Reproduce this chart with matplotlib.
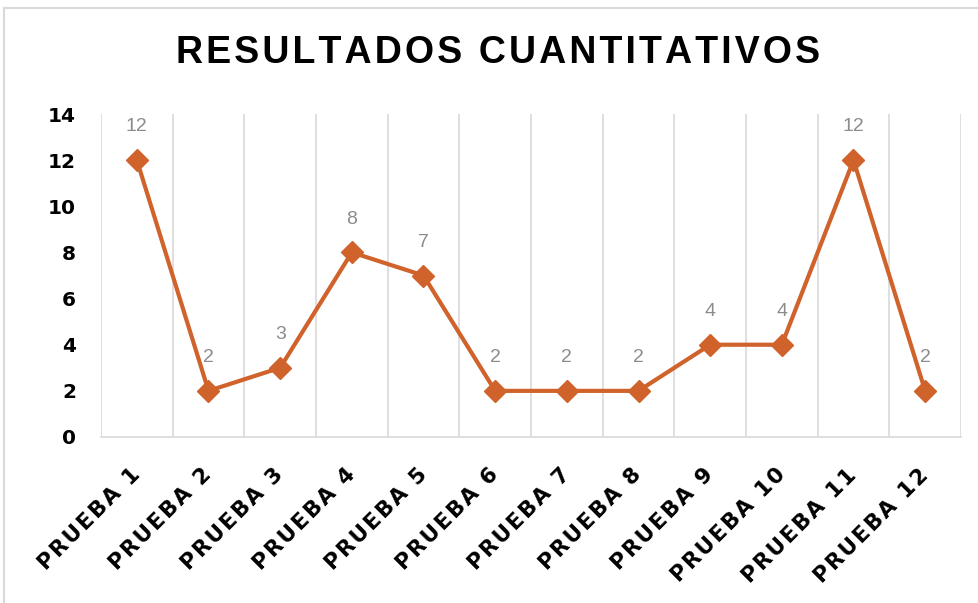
import matplotlib.pyplot as plt
from matplotlib.lines import Line2D
from matplotlib.transforms import ScaledTranslation

# ---------------------------------------------------------------- data
categorias = ["PRUEBA 1", "PRUEBA 2", "PRUEBA 3", "PRUEBA 4", "PRUEBA 5", "PRUEBA 6",
              "PRUEBA 7", "PRUEBA 8", "PRUEBA 9", "PRUEBA 10", "PRUEBA 11", "PRUEBA 12"]
valores = [12, 2, 3, 8, 7, 2, 2, 2, 4, 4, 12, 2]
y_ticks = [0, 2, 4, 6, 8, 10, 12, 14]

naranja = "#D0622B"
gris_rejilla = "#D9D9D9"
gris_etiqueta = "#8C8C8C"

plt.rcParams["font.family"] = ["Liberation Sans", "DejaVu Sans"]


def espaciar(texto, sep="\u200a"):
    # spread the letters a little, like tracked text
    return sep.join(texto)


fig = plt.figure(figsize=(9.79, 6.03), dpi=100)
ax = fig.add_axes([101/979, 1 - 437/603, 860/979, (437 - 114)/603])

x = list(range(len(categorias)))
ax.plot(x, valores, color=naranja, linewidth=3, marker="D", markersize=11,
        markerfacecolor=naranja, markeredgecolor=naranja, zorder=3)

for xi, v in zip(x, valores):
    ax.annotate(str(v), (xi, v), xytext=(0, 24), textcoords="offset points",
                ha="center", va="center", fontsize=14, color=gris_etiqueta)

ax.set_xlim(-0.5, len(categorias) - 0.5)
ax.set_ylim(0, 14)
ax.set_yticks(y_ticks)
ax.set_yticklabels([str(t) for t in y_ticks], fontsize=14.5, fontweight="bold",
                   family=["DejaVu Sans"])
ax.tick_params(axis="y", length=0, pad=18)

# vertical grid on category boundaries
ax.set_xticks([i - 0.5 for i in range(len(categorias) + 1)], minor=True)
ax.grid(axis="x", which="minor", color=gris_rejilla, linewidth=1.2)
ax.tick_params(axis="x", which="minor", length=0)

ax.set_xticks(x)
ax.set_xticklabels([espaciar(c) for c in categorias], rotation=45, ha="right",
                   va="top", rotation_mode="anchor", fontsize=15.5, fontweight="bold",
                   family=["DejaVu Sans"])
ax.tick_params(axis="x", which="major", length=0, pad=20)
desplazamiento = ScaledTranslation(-5/72, 0, fig.dpi_scale_trans)
for lab in ax.get_xticklabels():
    lab.set_transform(lab.get_transform() + desplazamiento)

for s in ["top", "right", "left"]:
    ax.spines[s].set_visible(False)
ax.spines["bottom"].set_color(gris_rejilla)
ax.spines["bottom"].set_linewidth(1.2)

fig.text(498/979, 1 - 53/603, espaciar("RESULTADOS CUANTITATIVOS"), ha="center",
         va="center", fontsize=27, fontweight="bold")

# chart frame
fig.add_artist(Line2D([4/979, 4/979], [-0.1, 1 - 8/603], color=gris_rejilla, linewidth=1.5))
fig.add_artist(Line2D([4/979, 1.1], [1 - 8/603, 1 - 8/603], color=gris_rejilla, linewidth=1.5))

fig.savefig("out.png", dpi=100, facecolor="white")
